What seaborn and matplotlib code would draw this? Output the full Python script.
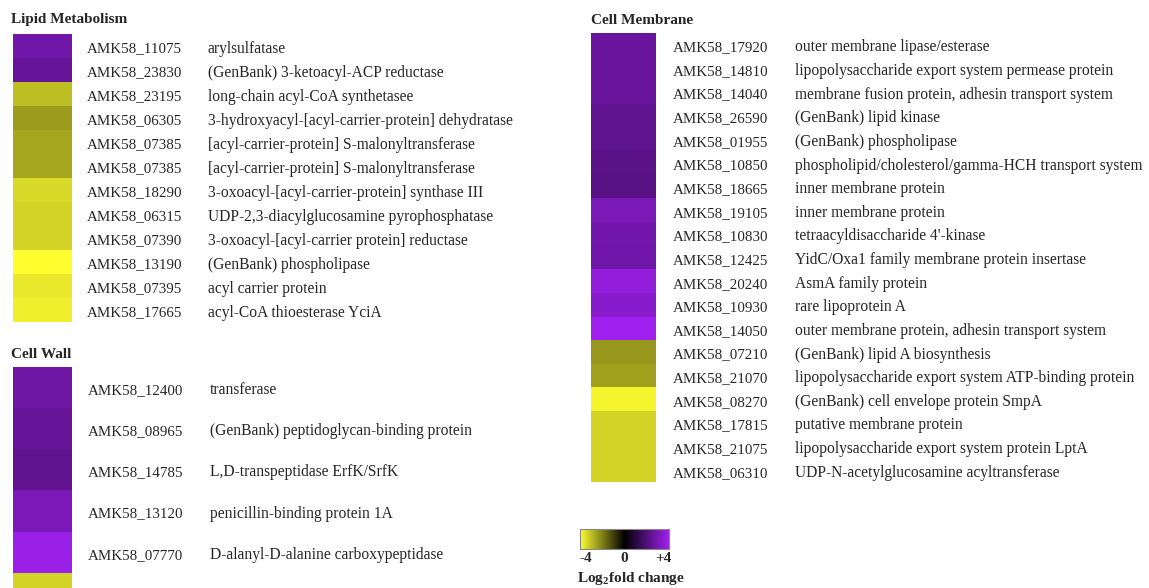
import numpy as np
import pandas as pd
import matplotlib
matplotlib.use("Agg")
import matplotlib.pyplot as plt
import matplotlib.transforms as mtransforms
from matplotlib.colors import LinearSegmentedColormap, Normalize
from matplotlib.cm import ScalarMappable
import seaborn as sns

# ---- data (log2 fold change) ----
lipid_ids = ["AMK58_11075", "AMK58_23830", "AMK58_23195", "AMK58_06305", "AMK58_07385",
             "AMK58_07385", "AMK58_18290", "AMK58_06315", "AMK58_07390", "AMK58_13190",
             "AMK58_07395", "AMK58_17665"]
lipid_desc = ["arylsulfatase", "(GenBank) 3-ketoacyl-ACP reductase", "long-chain acyl-CoA synthetasee",
              "3-hydroxyacyl-[acyl-carrier-protein] dehydratase", "[acyl-carrier-protein] S-malonyltransferase",
              "[acyl-carrier-protein] S-malonyltransferase", "3-oxoacyl-[acyl-carrier-protein] synthase III",
              "UDP-2,3-diacylglucosamine pyrophosphatase", "3-oxoacyl-[acyl-carrier protein] reductase",
              "(GenBank) phospholipase", "acyl carrier protein", "acyl-CoA thioesterase YciA"]
lipid_fc = [3.2, 2.9, -3.4, -2.8, -3.0, -3.0, -3.9, -3.8, -3.8, -4.6, -4.2, -4.3]

wall_ids = ["AMK58_12400", "AMK58_08965", "AMK58_14785", "AMK58_13120", "AMK58_07770", ""]
wall_desc = ["transferase", "(GenBank) peptidoglycan-binding protein", "L,D-transpeptidase ErfK/SrfK",
             "penicillin-binding protein 1A", "D-alanyl-D-alanine carboxypeptidase", ""]
wall_fc = [3.1, 2.9, 2.7, 3.5, 4.4, -3.8]

memb_ids = ["AMK58_17920", "AMK58_14810", "AMK58_14040", "AMK58_26590", "AMK58_01955",
            "AMK58_10850", "AMK58_18665", "AMK58_19105", "AMK58_10830", "AMK58_12425",
            "AMK58_20240", "AMK58_10930", "AMK58_14050", "AMK58_07210", "AMK58_21070",
            "AMK58_08270", "AMK58_17815", "AMK58_21075", "AMK58_06310"]
memb_desc = ["outer membrane lipase/esterase", "lipopolysaccharide export system permease protein",
             "membrane fusion protein, adhesin transport system", "(GenBank) lipid kinase",
             "(GenBank) phospholipase", "phospholipid/cholesterol/gamma-HCH transport system",
             "inner membrane protein", "inner membrane protein", "tetraacyldisaccharide 4'-kinase",
             "YidC/Oxa1 family membrane protein insertase", "AsmA family protein", "rare lipoprotein A",
             "outer membrane protein, adhesin transport system", "(GenBank) lipid A biosynthesis",
             "lipopolysaccharide export system ATP-binding protein", "(GenBank) cell envelope protein SmpA",
             "putative membrane protein", "lipopolysaccharide export system protein LptA",
             "UDP-N-acetylglucosamine acyltransferase"]
memb_fc = [3.0, 3.0, 3.0, 2.7, 2.7, 2.6, 2.5, 3.5, 3.3, 3.2, 4.2, 3.9, 4.6,
           -2.7, -2.9, -4.4, -3.8, -3.8, -3.8]

cbar_ticks = [-4, -2, 0, 2, 4]
cbar_labels = ["-4", "", "0", "", "+4"]

# ---- style ----
sns.set_style("white")
plt.rcParams["font.family"] = ["Liberation Serif", "DejaVu Serif"]
plt.rcParams["mathtext.fontset"] = "custom"
plt.rcParams["mathtext.rm"] = "Liberation Serif"
plt.rcParams["mathtext.bf"] = "Liberation Serif:bold"

cmap = LinearSegmentedColormap.from_list("ybp", ["#ffff30", "#000000", "#a020f0"])
VMIN, VMAX = -4.6, 4.6

W, H = 1149, 588
fig = plt.figure(figsize=(W / 100, H / 100), dpi=100)


def box(x0, y0, x1, y1):
    return [x0 / W, 1 - y1 / H, (x1 - x0) / W, (y1 - y0) / H]


def panel(title, ids, desc, fc, rect, id_x, desc_x, title_xy):
    ax = fig.add_axes(box(*rect))
    df = pd.DataFrame({"fc": fc}, index=range(len(fc)))
    sns.heatmap(df, ax=ax, cmap=cmap, vmin=VMIN, vmax=VMAX, cbar=False,
                xticklabels=False, yticklabels=False)
    ax.set_xlabel("")
    ax.set_ylabel("")
    # row labels sit on a baseline a little below the row centre
    tr = mtransforms.blended_transform_factory(fig.transFigure, ax.transData)
    tr = mtransforms.offset_copy(tr, fig=fig, y=-4.7, units="points")
    for i, (a, b) in enumerate(zip(ids, desc)):
        ax.text(id_x / W, i + 0.5, a, transform=tr, va="baseline", ha="left",
                fontsize=10.8, clip_on=False)
        ax.text(desc_x / W, i + 0.5, b, transform=tr, va="baseline", ha="left",
                fontsize=11.2, clip_on=False)
    fig.text(title_xy[0] / W, 1 - title_xy[1] / H, title, fontsize=11,
             fontweight="bold", ha="left", va="center")
    return ax


panel("Lipid Metabolism", lipid_ids, lipid_desc, lipid_fc,
      (13, 34, 72, 322), 87, 208, (11, 20))
panel("Cell Wall", wall_ids, wall_desc, wall_fc,
      (13, 367, 72, 614), 88, 210, (11, 354))
panel("Cell Membrane", memb_ids, memb_desc, memb_fc,
      (591, 33, 656, 482), 673, 795, (591, 20))

# ---- colour bar ----
cax = fig.add_axes(box(580, 529, 669, 549))
sm = ScalarMappable(norm=Normalize(VMIN, VMAX), cmap=cmap)
cb = fig.colorbar(sm, cax=cax, orientation="horizontal")
cb.set_ticks(cbar_ticks)
cb.set_ticklabels(cbar_labels)
cb.outline.set_edgecolor("#888888")
cb.outline.set_linewidth(0.8)
cax.tick_params(direction="in", length=3, width=0.8, color="#555555", pad=2,
                labelsize=11)
for t in cax.get_xticklabels():
    t.set_fontweight("bold")
fig.text(631 / W, 1 - 582 / H, r"Log$_{\mathbf{2}}$fold change", fontsize=11,
         fontweight="bold", ha="center", va="baseline")

fig.savefig("out.png", dpi=100)
